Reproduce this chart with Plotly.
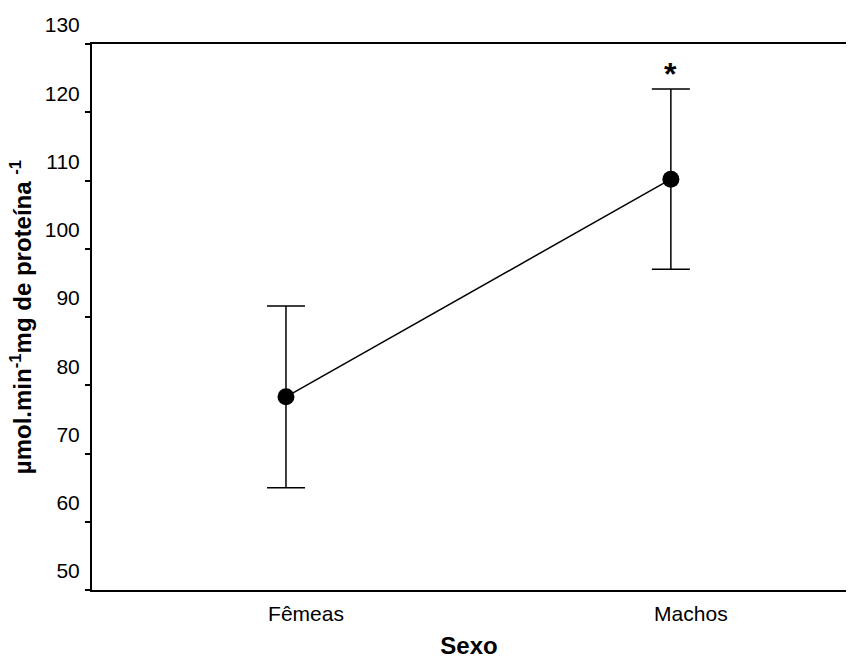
import plotly.graph_objects as go

categories = ["Fêmeas", "Machos"]
positions = [1, 2]
means = [78.3, 110.2]
errors = [13.3, 13.2]
y_ticks = [50, 60, 70, 80, 90, 100, 110, 120, 130]
significance = ["", "*"]

fig = go.Figure()
fig.add_trace(go.Scatter(
    x=positions, y=means,
    mode="lines+markers",
    line=dict(color="black", width=1.5),
    marker=dict(color="black", size=17, symbol="circle"),
    error_y=dict(type="data", array=errors, visible=True, color="black",
                 thickness=1.5, width=19),
    showlegend=False,
))

for p, m, e, s in zip(positions, means, errors, significance):
    if s:
        fig.add_annotation(x=p, y=m + e, text="<b>*</b>", showarrow=False,
                           yanchor="bottom", yshift=-5,
                           font=dict(family="Liberation Sans, Arial", size=32, color="black"))

fig.update_layout(
    width=852, height=659,
    margin=dict(l=92, r=6, t=44, b=69),
    paper_bgcolor="white", plot_bgcolor="white",
    font=dict(family="Liberation Sans, Arial", color="black", size=21),
)
fig.update_xaxes(
    range=[0.496, 2.455], tickvals=positions, ticktext=categories,
    showline=True, linecolor="black", linewidth=2, mirror=True,
    ticks="", showgrid=False, zeroline=False, automargin=False,
    ticklabelshift=20, ticklabelstandoff=4,
    tickfont=dict(size=21),
    title=dict(text="<b>Sexo</b>", font=dict(size=24), standoff=22),
)
fig.update_yaxes(
    range=[50, 130], tickvals=y_ticks, ticktext=[str(v) for v in y_ticks],
    showline=True, linecolor="black", linewidth=2, mirror=False,
    ticks="outside", ticklen=5, tickwidth=1.5, tickcolor="black",
    ticklabelshift=-19, ticklabelstandoff=1,
    showgrid=False, zeroline=False, automargin=False,
    tickfont=dict(size=21),
    title=dict(text="<b>µmol.min<sup>-1</sup>mg de proteína <sup>-1</sup></b>",
               font=dict(size=24), standoff=6),
)

fig.write_html("out.html", config={"displayModeBar": False},
               post_script="document.body.style.margin='0px';")
